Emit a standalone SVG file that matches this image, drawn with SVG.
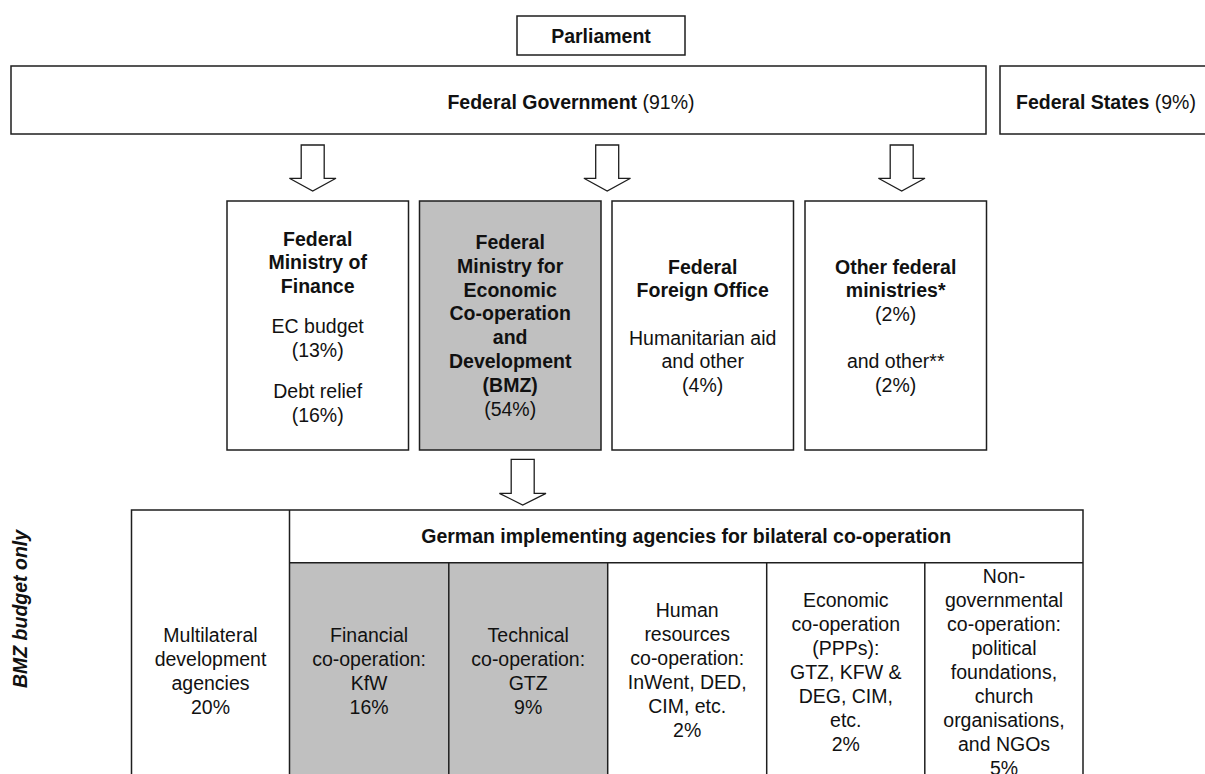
<svg xmlns="http://www.w3.org/2000/svg" width="1205" height="774" viewBox="0 0 1205 774">
<style>
  .box { fill: #ffffff; stroke: #1e1e1e; stroke-width: 1.5; }
  .grey { fill: #c0c0c0; stroke: #1e1e1e; stroke-width: 1.5; }
  .line { fill: none; stroke: #1e1e1e; stroke-width: 1.5; }
  .arrow { fill: #ffffff; stroke: #1e1e1e; stroke-width: 1.3; stroke-linejoin: miter; }
  text { font-family: "Liberation Sans", Arial, sans-serif; font-size: 19.5px; fill: #111111; }
  .c { text-anchor: middle; }
  .b { font-weight: bold; }
  .bi { font-weight: bold; font-style: italic; }
</style>
<rect width="1205" height="774" fill="#ffffff"/>

<g id="parliament">
  <rect class="box" x="517" y="16" width="168" height="39"/>
  <text class="c b" x="601" y="42.5">Parliament</text>
</g>

<g id="federal-government">
  <rect class="box" x="11" y="66" width="975" height="68"/>
  <text class="c" x="571" y="109"><tspan class="b">Federal Government</tspan> (91%)</text>
</g>

<g id="federal-states">
  <rect class="box" x="1000" y="66" width="215" height="68"/>
  <text x="1016" y="109"><tspan class="b">Federal States</tspan> (9%)</text>
</g>

<g id="ministry-finance">
  <rect class="box" x="227" y="201" width="181.5" height="249"/>
  <text class="c b" x="317.7" y="246">Federal</text>
  <text class="c b" x="317.7" y="269.3">Ministry of</text>
  <text class="c b" x="317.7" y="292.7">Finance</text>
  <text class="c" x="317.7" y="333.3">EC budget</text>
  <text class="c" x="317.7" y="356.7">(13%)</text>
  <text class="c" x="317.7" y="398.3">Debt relief</text>
  <text class="c" x="317.7" y="421.7">(16%)</text>
</g>

<g id="bmz">
  <rect class="grey" x="419.5" y="201" width="181.5" height="249"/>
  <text class="c b" x="510.2" y="249">Federal</text>
  <text class="c b" x="510.2" y="272.8">Ministry for</text>
  <text class="c b" x="510.2" y="296.6">Economic</text>
  <text class="c b" x="510.2" y="320.4">Co-operation</text>
  <text class="c b" x="510.2" y="344.2">and</text>
  <text class="c b" x="510.2" y="368">Development</text>
  <text class="c b" x="510.2" y="391.8">(BMZ)</text>
  <text class="c" x="510.2" y="415.6">(54%)</text>
</g>

<g id="foreign-office">
  <rect class="box" x="612" y="201" width="181.5" height="249"/>
  <text class="c b" x="702.7" y="274">Federal</text>
  <text class="c b" x="702.7" y="297.3">Foreign Office</text>
  <text class="c" x="702.7" y="345">Humanitarian aid</text>
  <text class="c" x="702.7" y="368.3">and other</text>
  <text class="c" x="702.7" y="391.7">(4%)</text>
</g>

<g id="other-ministries">
  <rect class="box" x="805" y="201" width="181.5" height="249"/>
  <text class="c b" x="895.7" y="274">Other federal</text>
  <text class="c b" x="895.7" y="297.3">ministries*</text>
  <text class="c" x="895.7" y="320.7">(2%)</text>
  <text class="c" x="895.7" y="368.3">and other**</text>
  <text class="c" x="895.7" y="391.7">(2%)</text>
</g>

<g id="bmz-budget-label">
  <text class="c bi" transform="translate(26.7,609) rotate(-90)">BMZ budget only</text>
</g>

<g id="table-frame">
  <rect class="grey" x="289.5" y="562.7" width="159.3" height="220" style="stroke:none"/>
  <rect class="grey" x="448.8" y="562.7" width="158.9" height="220" style="stroke:none"/>
  <polyline class="line" points="131.5,790 131.5,510 1083,510 1083,790"/>
  <line class="line" x1="289.5" y1="510" x2="289.5" y2="790"/>
  <line class="line" x1="289.5" y1="562.7" x2="1083" y2="562.7"/>
  <line class="line" x1="448.8" y1="562.7" x2="448.8" y2="790"/>
  <line class="line" x1="607.7" y1="562.7" x2="607.7" y2="790"/>
  <line class="line" x1="766.7" y1="562.7" x2="766.7" y2="790"/>
  <line class="line" x1="924.8" y1="562.7" x2="924.8" y2="790"/>
</g>

<g id="german-agencies-header">
  <text class="c b" x="686.2" y="543.3">German implementing agencies for bilateral co-operation</text>
</g>

<g id="multilateral">
  <text class="c" x="210.5" y="641.5">Multilateral</text>
  <text class="c" x="210.5" y="665.5">development</text>
  <text class="c" x="210.5" y="689.5">agencies</text>
  <text class="c" x="210.5" y="713.5">20%</text>
</g>

<g id="financial-cooperation">
  <text class="c" x="369.1" y="641.5">Financial</text>
  <text class="c" x="369.1" y="665.5">co-operation:</text>
  <text class="c" x="369.1" y="689.5">KfW</text>
  <text class="c" x="369.1" y="713.5">16%</text>
</g>

<g id="technical-cooperation">
  <text class="c" x="528.2" y="641.5">Technical</text>
  <text class="c" x="528.2" y="665.5">co-operation:</text>
  <text class="c" x="528.2" y="689.5">GTZ</text>
  <text class="c" x="528.2" y="713.5">9%</text>
</g>

<g id="human-resources">
  <text class="c" x="687.2" y="617">Human</text>
  <text class="c" x="687.2" y="641">resources</text>
  <text class="c" x="687.2" y="665">co-operation:</text>
  <text class="c" x="687.2" y="689">InWent, DED,</text>
  <text class="c" x="687.2" y="713">CIM, etc.</text>
  <text class="c" x="687.2" y="737">2%</text>
</g>

<g id="economic-cooperation">
  <text class="c" x="845.8" y="607">Economic</text>
  <text class="c" x="845.8" y="631">co-operation</text>
  <text class="c" x="845.8" y="655">(PPPs):</text>
  <text class="c" x="845.8" y="679">GTZ, KFW &amp;</text>
  <text class="c" x="845.8" y="703">DEG, CIM,</text>
  <text class="c" x="845.8" y="727">etc.</text>
  <text class="c" x="845.8" y="751">2%</text>
</g>

<g id="non-governmental">
  <text class="c" x="1004" y="583">Non-</text>
  <text class="c" x="1004" y="607">governmental</text>
  <text class="c" x="1004" y="631">co-operation:</text>
  <text class="c" x="1004" y="655">political</text>
  <text class="c" x="1004" y="679">foundations,</text>
  <text class="c" x="1004" y="703">church</text>
  <text class="c" x="1004" y="727">organisations,</text>
  <text class="c" x="1004" y="751">and NGOs</text>
  <text class="c" x="1004" y="775">5%</text>
</g>

<g id="connectors">
  <polygon class="arrow" points="301.2,145 324.2,145 324.2,178.3 336,178.3 312.7,191 289.4,178.3 301.2,178.3"/>
  <polygon class="arrow" points="595.7,145 618.7,145 618.7,178.3 630.5,178.3 607.2,191 583.9,178.3 595.7,178.3"/>
  <polygon class="arrow" points="890.2,145 913.2,145 913.2,178.3 925,178.3 901.7,191 878.4,178.3 890.2,178.3"/>
  <polygon class="arrow" points="511.2,459.3 534.2,459.3 534.2,493.3 546,493.3 522.7,505 499.4,493.3 511.2,493.3"/>
</g>
</svg>
